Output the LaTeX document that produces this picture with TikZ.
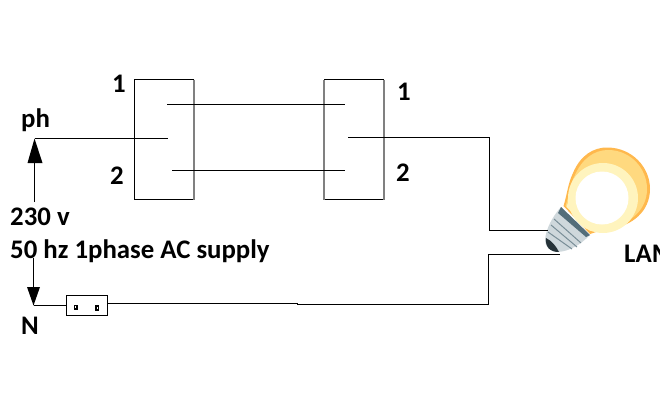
\documentclass[tikz,border=0pt]{standalone}
\usepackage{fontspec}
\setmainfont{Carlito}
\definecolor{bulbring}{HTML}{FFB84D}
\definecolor{bulbbody}{HTML}{FFD97F}
\definecolor{bulbpale}{HTML}{FFF4BE}
\definecolor{screwlight}{HTML}{CFD8DC}
\definecolor{screwdark}{HTML}{546E7A}
\definecolor{screwbase}{HTML}{263238}
\begin{document}
\begin{tikzpicture}[x=1pt,y=-1pt,
  wire/.style={draw=black,line width=1pt},
  boxline/.style={draw=black,line width=1pt},
  greyline/.style={draw=black!50,line width=1.5pt},
  lbl/.style={inner sep=0pt,font=\bfseries\fontsize{26.8pt}{30pt}\selectfont,anchor=base west},
  head/.style={fill=black,draw=none}]
\clip (0,0) rectangle (660,415);
\useasboundingbox (0,0) rectangle (660,415);
% switches
\coordinate (a1) at (134.5,79.5); \coordinate (a2) at (194,79.5);
\coordinate (a3) at (194,199.5); \coordinate (a4) at (134.5,199.5);
\coordinate (b1) at (324,79.5); \coordinate (b2) at (384,79.5);
\coordinate (b3) at (384,199.5); \coordinate (b4) at (324,199.5);
\draw[boxline] (a2) -- (a1) -- (a4) -- (a3);
\draw[greyline] (a2) -- (a3);
\draw[boxline] (b1) -- (b2); \draw[boxline] (b4) -- (b3);
\draw[greyline] (b1) -- (b4); \draw[greyline] (b2) -- (b3);
% bulb
\path[fill=bulbring]
  (563.5,206)
  .. controls (567,195) and (568,183) .. (573,173)
  .. controls (580,156) and (593,147) .. (608,147.5)
  .. controls (632,148) and (650,167) .. (650,189)
  .. controls (650,212) and (631,226) .. (612,228)
  .. controls (602,229) and (600,231) .. (590,234) -- cycle;
\path[fill=bulbbody]
  (565.5,206)
  .. controls (569,196) and (570,184) .. (575,175)
  .. controls (582,159) and (594,150) .. (608,150)
  .. controls (631,150) and (647,169) .. (647,189)
  .. controls (647,210) and (630,224) .. (611,226)
  .. controls (601,227) and (599,229) .. (590,231) -- cycle;
\path[fill=bulbpale] (566.5,207) -- (574,186) -- (600,228) -- (590,230.5) -- cycle;
\fill[bulbpale] (603,198) circle (35pt);
\fill[white] (602,198) circle (26.5pt);
% screw
\path[fill=screwlight] (561,207) -- (590,235)
  .. controls (580,245) and (570,251) .. (558,252)
  .. controls (550,252) and (545,247) .. (545,240)
  .. controls (546,228) and (553,216) .. (561,207) -- cycle;
\path[fill=screwdark] (561,207) -- (590,235) -- (586,237) -- (558,213) -- cycle;
\path[fill=screwbase] (546,238) .. controls (552,241) and (556,246) .. (559,252)
  .. controls (550,252) and (545,247) .. (546,238) -- cycle;
\draw[screwdark!70!screwlight,line width=1pt] (554,219) -- (581,243);
\draw[screwdark!70!screwlight,line width=1pt] (551,225) -- (577,247);
\draw[screwdark!70!screwlight,line width=1pt] (548,232) -- (572,249);
% wiring
\coordinate (ph) at (34.5,138.5);
\coordinate (phin) at (168,138.5);
\coordinate (t1) at (167,104.5); \coordinate (t2) at (345,104.5);
\coordinate (u1) at (172,170.5); \coordinate (u2) at (345,170.5);
\coordinate (o1) at (348,137.5); \coordinate (o2) at (489.5,137.5);
\coordinate (o3) at (489.5,230.5); \coordinate (o4) at (548,230.5);
\coordinate (r1) at (560,254.5); \coordinate (r2) at (488.5,254.5);
\coordinate (r3) at (488.5,304.5); \coordinate (jog) at (297,304.5);
\coordinate (f2) at (107.5,303.5);
\coordinate (n) at (33.5,305.5); \coordinate (f1) at (66.5,305.5);
\coordinate (s1) at (34.5,202); \coordinate (s2) at (33.5,258);
\draw[wire] (ph) -- (phin);
\draw[wire] (t1) -- (t2);
\draw[wire] (u1) -- (u2);
\draw[wire] (o1) -- (o2) -- (o3) -- (o4);
\draw[wire] (r1) -- (r2) -- (r3) -- (jog) -- (297,303.5) -- (f2);
\draw[wire] (n) -- (f1);
\draw[wire] (s1) -- (34.5,160);
\draw[wire] (s2) -- (33.5,288);
\fill[head] (ph) -- (42.5,163) -- (27.5,163) -- cycle;
\fill[head] (n) -- (40,287) -- (27,287) -- cycle;
% fuse
\node[draw=black,line width=0.9pt,fill=white,minimum width=41pt,minimum height=20pt,inner sep=0pt] (fuse) at (87,305.3) {};
\fill (73.5,304.5) rectangle (77.5,310); \fill (95,305) rectangle (99,310.5);
\fill[white] (75,306) rectangle (76,308); \fill[white] (96.5,307) rectangle (97.5,308.5);
% labels
\node[lbl] (l1) at (112,92) {1};
\node[lbl] (l2) at (110,184) {2};
\node[lbl] (l3) at (397,100) {1};
\node[lbl] (l4) at (396,181) {2};
\node[lbl] (lph) at (21,127) {ph};
\node[lbl] (lv) at (10,225) {230 v};
\node[lbl] (lhz) at (10,258) {50 hz 1phase AC supply};
\node[lbl] (ln) at (21,334) {N};
\node[lbl] (lamp) at (624,262) {LAM};
\end{tikzpicture}
\end{document}
